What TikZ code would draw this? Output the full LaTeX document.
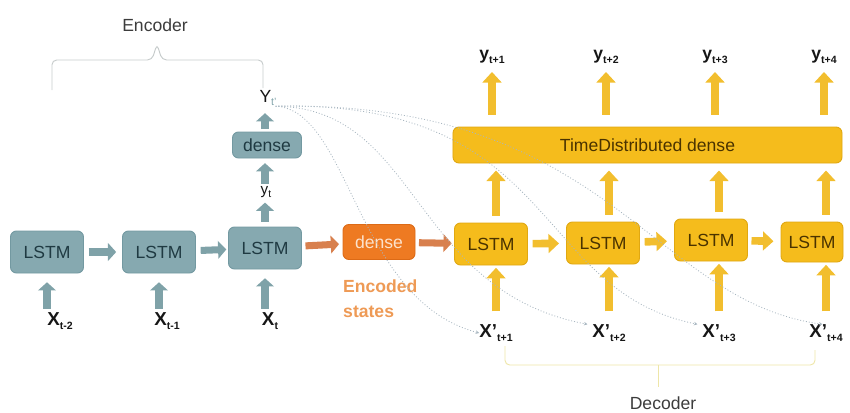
\documentclass[tikz,border=0pt]{standalone}
\usepackage{fontspec}
\setmainfont{Liberation Sans}
\usepackage{tikz}
\usetikzlibrary{arrows.meta,positioning,calc}
\definecolor{STeal}{HTML}{86A9B0}
\definecolor{STealLine}{HTML}{7399A1}
\definecolor{STealArrow}{HTML}{7FA2A8}
\definecolor{STealText}{HTML}{1F3A42}
\definecolor{SOrange}{HTML}{EE7A22}
\definecolor{SOrangeLine}{HTML}{DC6A16}
\definecolor{SOrangeText}{HTML}{FCE2CC}
\definecolor{SOrangeArrow}{HTML}{D8804E}
\definecolor{SOrangeSoft}{HTML}{EE9A55}
\definecolor{SAmber}{HTML}{F5BC1C}
\definecolor{SAmberLine}{HTML}{E0A812}
\definecolor{SAmberArrow}{HTML}{F2BE2E}
\definecolor{SAmberText}{HTML}{4A3300}
\definecolor{SInk}{HTML}{161616}
\definecolor{SGrayText}{HTML}{3C3C3C}
\definecolor{SBrace}{HTML}{C6CBCB}
\definecolor{SBraceDec}{HTML}{EEE6A8}
\definecolor{SDots}{HTML}{A9B7C1}
\newcommand{\seqlab}[2]{#1\raisebox{-0.4ex}{\fontsize{9}{10}\selectfont #2}}
\tikzset{
  cell/.style={draw=STealLine,line width=0.8pt,fill=STeal,rounded corners=1.8mm,
               text=STealText,font=\fontsize{15}{18}\selectfont,
               minimum width=2.19cm,minimum height=1.26cm,inner sep=0pt},
  cellamber/.style={cell,draw=SAmberLine,fill=SAmber,text=SAmberText},
  cellorange/.style={cell,draw=SOrangeLine,fill=SOrange,text=SOrangeText},
  flowteal/.style={-{Triangle[length=7pt,width=15pt]},STealArrow,line width=6pt},
  floworange/.style={flowteal,SOrangeArrow},
  flowamber/.style={-{Triangle[length=9pt,width=16pt]},SAmberArrow,line width=6.5pt},
  fan/.style={SDots,line width=0.7pt,dash pattern=on 0.8pt off 1.7pt,
              -{Stealth[length=3pt,width=3pt]}},
  brace/.style={SBrace,line width=0.8pt,rounded corners=4pt},
  bracedec/.style={brace,SBraceDec},
  inlab/.style={text=SInk,font=\fontsize{16}{18}\selectfont\bfseries,inner sep=0pt},
  outlab/.style={text=SInk,font=\fontsize{15}{18}\selectfont\bfseries,inner sep=0pt},
  title/.style={text=SGrayText,font=\fontsize{15}{18}\selectfont,inner sep=0pt},
}
\begin{document}
\begin{tikzpicture}[x=0.03cm,y=-0.03cm]
  \useasboundingbox (0,0) rectangle (850,412);
  % encoder
  \node[cell] (lstmA) at (47,252) {LSTM};
  \node[cell] (lstmB) at (159,252) {LSTM};
  \node[cell] (lstmC) at (265,248) {LSTM};
  \node[inlab] (xA) at (60,321) {\seqlab{X}{t-2}};
  \node[inlab] (xB) at (167,321) {\seqlab{X}{t-1}};
  \node[inlab] (xC) at (270,321) {\seqlab{X}{t}};
  \node[title,text=SInk,font=\fontsize{13}{15}\selectfont] (yt) at (266,192) {\seqlab{y}{t}};
  \node[cell,minimum width=2.07cm,minimum height=0.78cm] (encdense) at (267,145) {dense};
  \node[title,text=SInk] (ytp) at (268,98) {\seqlab{Y}{\color{STealArrow}t'}};
  \draw[flowteal,shorten <=3pt,shorten >=7.5pt] (xA.north -| lstmA) -- (lstmA.south);
  \draw[flowteal,shorten <=3pt,shorten >=7.5pt] (xB.north -| lstmB) -- (lstmB.south);
  \draw[flowteal,shorten <=3pt,shorten >=7.5pt] (xC.north -| lstmC) -- (lstmC.south);
  \draw[flowteal,shorten <=4pt,shorten >=5pt] (lstmA) -- (lstmB);
  \draw[flowteal,shorten <=4pt,shorten >=1.5pt] (lstmB) -- (lstmC);
  \draw[flowteal,shorten <=4pt,shorten >=4pt] (lstmC.north) -- (yt.south -| lstmC);
  \draw[flowteal,shorten <=2pt,shorten >=4pt] (yt.north -| lstmC) -- (encdense.south -| lstmC);
  \draw[flowteal,shorten <=2pt,shorten >=6pt] (encdense.north -| lstmC) -- (ytp.south -| lstmC);
  % brace over the encoder
  \node[title] (enc) at (155,25) {Encoder};
  \draw[brace] (52,90) -- (52,60) -- (152,60) -- (157,44) -- (162,60) -- (263,60) -- (263,88);
  % encoded states
  \node[cellorange,minimum width=2.16cm,minimum height=1.05cm] (odense) at (379,242) {dense};
  \node[text=SOrangeSoft,font=\fontsize{15}{21}\selectfont\bfseries,align=left,
        anchor=west,inner sep=0pt] (encst) at (343,299) {Encoded\\states};
  \draw[floworange,shorten <=3pt,shorten >=3pt] (lstmC) -- (odense);
  % decoder
  \node[cellamber] (dA) at (491,244) {LSTM};
  \node[cellamber] (dB) at (603,243) {LSTM};
  \node[cellamber] (dC) at (711,240) {LSTM};
  \node[cellamber,minimum width=1.86cm,minimum height=1.2cm] (dD) at (812,242) {LSTM};
  \node[cellamber,minimum width=11.67cm,minimum height=1.08cm] (td) at (647.5,145) {TimeDistributed dense};
  \draw[floworange,shorten <=3pt,shorten >=2pt] (odense) -- (dA);
  \draw[flowamber,shorten <=4pt,shorten >=6pt] (dA) -- (dB);
  \draw[flowamber,shorten <=4pt,shorten >=6pt] (dB) -- (dC);
  \draw[flowamber,shorten <=3pt,shorten >=6pt] (dC) -- (dD);
  \node[inlab] (xpA) at (496,333) {\seqlab{X'}{t+1}};
  \node[inlab] (xpB) at (609,333) {\seqlab{X'}{t+2}};
  \node[inlab] (xpC) at (719,333) {\seqlab{X'}{t+3}};
  \node[inlab] (xpD) at (826,333) {\seqlab{X'}{t+4}};
  \node[outlab] (yA) at (492,57) {\seqlab{y}{t+1}};
  \node[outlab] (yB) at (606,57) {\seqlab{y}{t+2}};
  \node[outlab] (yC) at (715,57) {\seqlab{y}{t+3}};
  \node[outlab] (yD) at (824,57) {\seqlab{y}{t+4}};
  \draw[flowamber,shorten <=11pt,shorten >=2pt] (xpA.north) -- (xpA.north |- dA.south);
  \draw[flowamber,shorten <=11pt,shorten >=2pt] (xpB.north) -- (xpB.north |- dB.south);
  \draw[flowamber,shorten <=11pt,shorten >=2pt] (xpC.north) -- (xpC.north |- dC.south);
  \draw[flowamber,shorten <=11pt,shorten >=2pt] (xpD.north) -- (xpD.north |- dD.south);
  \draw[flowamber,shorten <=6pt,shorten >=6pt] (xpA |- dA.north) -- (xpA |- td.south);
  \draw[flowamber,shorten <=6pt,shorten >=6pt] (xpB |- dB.north) -- (xpB |- td.south);
  \draw[flowamber,shorten <=6pt,shorten >=6pt] (xpC |- dC.north) -- (xpC |- td.south);
  \draw[flowamber,shorten <=6pt,shorten >=6pt] (xpD |- dD.north) -- (xpD |- td.south);
  \draw[flowamber,shorten <=10pt,shorten >=7pt] (yA.south |- td.north) -- (yA.south);
  \draw[flowamber,shorten <=10pt,shorten >=7pt] (yB.south |- td.north) -- (yB.south);
  \draw[flowamber,shorten <=10pt,shorten >=7pt] (yC.south |- td.north) -- (yC.south);
  \draw[flowamber,shorten <=10pt,shorten >=7pt] (yD.south |- td.north) -- (yD.south);
  % Y_t' handed to every decoder input
  \coordinate (fan) at ([xshift=-1pt]ytp.south east);
  \draw[fan] (fan) .. controls (350,110) and (355,300) .. (xpA.west);
  \draw[fan] (fan) .. controls (420,108) and (410,290) .. ([xshift=-4pt]xpB.north west);
  \draw[fan] (fan) .. controls (560,100) and (530,290) .. ([xshift=-4pt]xpC.north west);
  \draw[fan] (fan) .. controls (610,100) and (650,300) .. ([xshift=-3pt]xpD.north);
  % brace under the decoder
  \draw[bracedec] (505,346) -- (505,365) -- (815,365) -- (815,350);
  \draw[bracedec] (658,365) -- (658,387);
  \node[title] (dec) at (663,403) {Decoder};
\end{tikzpicture}
\end{document}
